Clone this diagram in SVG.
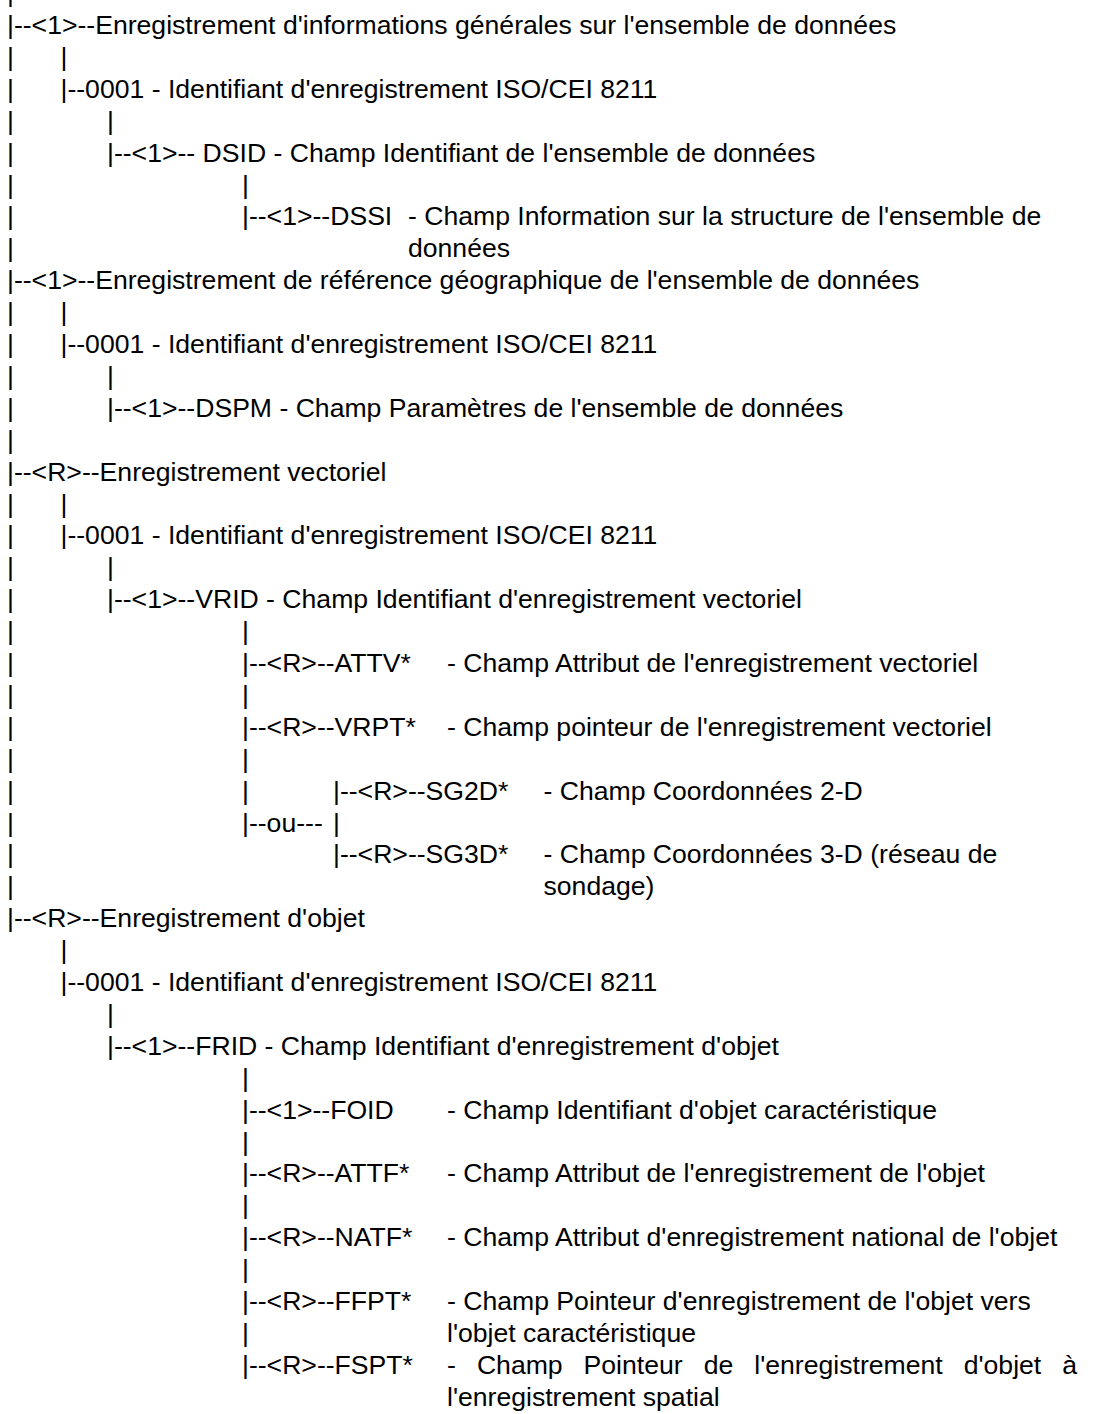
<svg xmlns="http://www.w3.org/2000/svg" width="1094" height="1414" viewBox="0 0 1094 1414">
<style>
text{font-family:"Liberation Sans",Arial,sans-serif;font-size:26.6px;fill:#000;white-space:pre}
</style>
<rect width="1094" height="1414" fill="#fff"/>
<g id="connectors">
<text x="7" y="2.1">|</text>
<text x="7" y="65.9">|</text><text x="60.5" y="65.9">|</text>
<text x="7" y="97.8">|</text>
<text x="7" y="129.7">|</text><text x="107" y="129.7">|</text>
<text x="7" y="161.6">|</text>
<text x="7" y="193.5">|</text><text x="242" y="193.5">|</text>
<text x="7" y="225.4">|</text>
<text x="7" y="257.3">|</text>
<text x="7" y="321.1">|</text><text x="60.5" y="321.1">|</text>
<text x="7" y="353">|</text>
<text x="7" y="384.9">|</text><text x="107" y="384.9">|</text>
<text x="7" y="416.8">|</text>
<text x="7" y="448.7">|</text>
<text x="7" y="512.5">|</text><text x="60.5" y="512.5">|</text>
<text x="7" y="544.4">|</text>
<text x="7" y="576.3">|</text><text x="107" y="576.3">|</text>
<text x="7" y="608.2">|</text>
<text x="7" y="640.1">|</text><text x="242" y="640.1">|</text>
<text x="7" y="672">|</text>
<text x="7" y="703.9">|</text><text x="242" y="703.9">|</text>
<text x="7" y="735.8">|</text>
<text x="7" y="767.7">|</text><text x="242" y="767.7">|</text>
<text x="7" y="799.6">|</text><text x="242" y="799.6">|</text>
<text x="7" y="831.5">|</text><text x="333" y="831.5">|</text>
<text x="7" y="863.4">|</text>
<text x="7" y="895.3">|</text>
<text x="60.5" y="959.1">|</text>
<text x="107" y="1022.9">|</text>
<text x="242" y="1086.7">|</text>
<text x="242" y="1150.5">|</text>
<text x="242" y="1214.3">|</text>
<text x="242" y="1278.1">|</text>
<text x="242" y="1341.9">|</text>
</g>
<g id="rec-info-generales"><text x="7" y="34">|--&lt;1&gt;--Enregistrement d'informations générales sur l'ensemble de données</text></g>
<g id="id-0001-a"><text x="60.5" y="97.8">|--0001 - Identifiant d'enregistrement ISO/CEI 8211</text></g>
<g id="dsid"><text x="107" y="161.6">|--&lt;1&gt;-- DSID - Champ Identifiant de l'ensemble de données</text></g>
<g id="dssi"><text x="242" y="225.4">|--&lt;1&gt;--DSSI</text><text x="408" y="225.4">- Champ Information sur la structure de l'ensemble de</text><text x="408" y="257.3">données</text></g>
<g id="rec-ref-geo"><text x="7" y="289.2">|--&lt;1&gt;--Enregistrement de référence géographique de l'ensemble de données</text></g>
<g id="id-0001-b"><text x="60.5" y="353">|--0001 - Identifiant d'enregistrement ISO/CEI 8211</text></g>
<g id="dspm"><text x="107" y="416.8">|--&lt;1&gt;--DSPM - Champ Paramètres de l'ensemble de données</text></g>
<g id="rec-vectoriel"><text x="7" y="480.6">|--&lt;R&gt;--Enregistrement vectoriel</text></g>
<g id="id-0001-c"><text x="60.5" y="544.4">|--0001 - Identifiant d'enregistrement ISO/CEI 8211</text></g>
<g id="vrid"><text x="107" y="608.2">|--&lt;1&gt;--VRID - Champ Identifiant d'enregistrement vectoriel</text></g>
<g id="attv"><text x="242" y="672">|--&lt;R&gt;--ATTV*</text><text x="447" y="672">- Champ Attribut de l'enregistrement vectoriel</text></g>
<g id="vrpt"><text x="242" y="735.8">|--&lt;R&gt;--VRPT*</text><text x="447" y="735.8">- Champ pointeur de l'enregistrement vectoriel</text></g>
<g id="sg2d"><text x="333" y="799.6">|--&lt;R&gt;--SG2D*</text><text x="543.5" y="799.6">- Champ Coordonnées 2-D</text></g>
<g id="ou"><text x="242" y="831.5">|--ou---</text></g>
<g id="sg3d"><text x="333" y="863.4">|--&lt;R&gt;--SG3D*</text><text x="543.5" y="863.4">- Champ Coordonnées 3-D (réseau de</text><text x="543.5" y="895.3">sondage)</text></g>
<g id="rec-objet"><text x="7" y="927.2">|--&lt;R&gt;--Enregistrement d'objet</text></g>
<g id="id-0001-d"><text x="60.5" y="991">|--0001 - Identifiant d'enregistrement ISO/CEI 8211</text></g>
<g id="frid"><text x="107" y="1054.8">|--&lt;1&gt;--FRID - Champ Identifiant d'enregistrement d'objet</text></g>
<g id="foid"><text x="242" y="1118.6">|--&lt;1&gt;--FOID</text><text x="447" y="1118.6">- Champ Identifiant d'objet caractéristique</text></g>
<g id="attf"><text x="242" y="1182.4">|--&lt;R&gt;--ATTF*</text><text x="447" y="1182.4">- Champ Attribut de l'enregistrement de l'objet</text></g>
<g id="natf"><text x="242" y="1246.2">|--&lt;R&gt;--NATF*</text><text x="447" y="1246.2">- Champ Attribut d'enregistrement national de l'objet</text></g>
<g id="ffpt"><text x="242" y="1310">|--&lt;R&gt;--FFPT*</text><text x="447" y="1310">- Champ Pointeur d'enregistrement de l'objet vers</text><text x="447" y="1341.9">l'objet caractéristique</text></g>
<g id="fspt"><text x="242" y="1373.8">|--&lt;R&gt;--FSPT*</text><text x="447" y="1373.8">-</text><text x="476.9" y="1373.8">Champ</text><text x="583.6" y="1373.8">Pointeur</text><text x="703.7" y="1373.8">de</text><text x="754.3" y="1373.8">l'enregistrement</text><text x="963.7" y="1373.8">d'objet</text><text x="1062.2" y="1373.8">à</text><text x="447" y="1405.7">l'enregistrement spatial</text></g>
</svg>
